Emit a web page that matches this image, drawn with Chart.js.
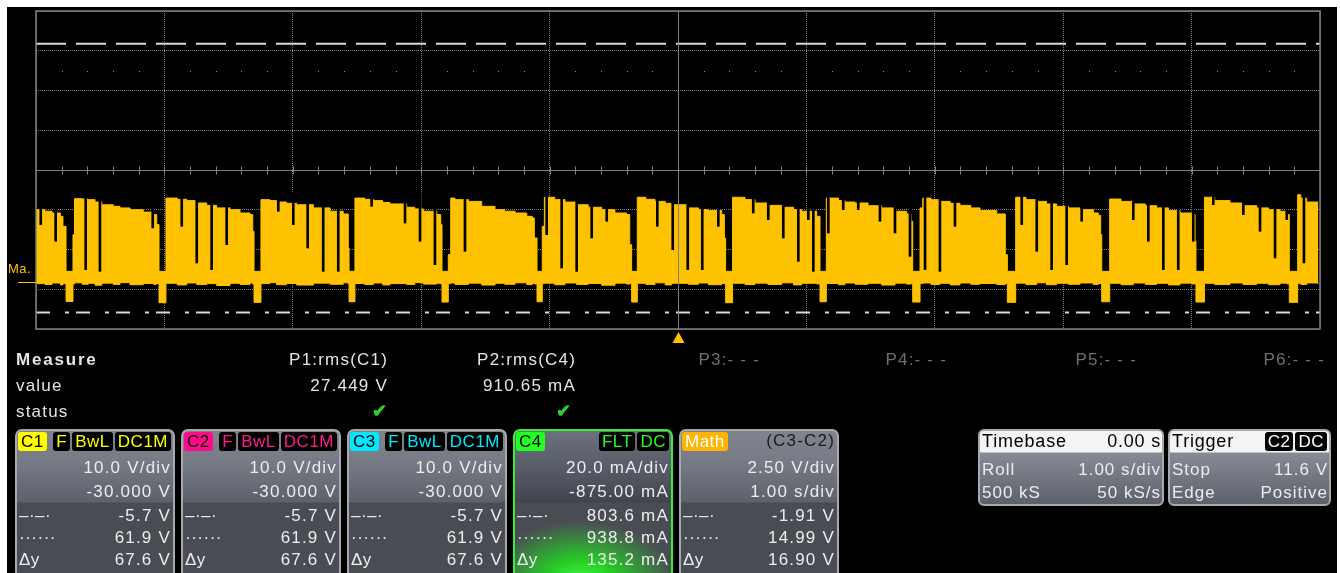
<!DOCTYPE html>
<html>
<head>
<meta charset="utf-8">
<script src="https://cdn.jsdelivr.net/npm/chart.js@4.4.1/dist/chart.umd.min.js"></script>
<style>
  html, body { margin: 0; padding: 0; background: #fff; overflow: hidden; }
  #pantalla { position: relative; width: 1340px; height: 573px; overflow: hidden; font-family: "Liberation Sans", Arial, sans-serif; }
  #fondo { position: absolute; left: 7px; top: 7px; width: 1330px; height: 566px; background: #000; }
  #grafico-osc { position: absolute; left: 0; top: 0; }
  .txt { position: absolute; font-size: 17px; line-height: 20px; letter-spacing: 1.2px; color: #e4e4e4; white-space: nowrap; }
  .gris { color: #6f6f6f; }
  .ok { color: #2fd12f; font-weight: bold; font-size: 18px; }
  .marca { position: absolute; left: 8px; top: 262px; color: #ffc200; font-size: 13px; line-height: 14px; letter-spacing: 0.5px; }
  .caja { position: absolute; top: 429px; width: 160px; height: 150px; box-sizing: border-box; border: 2px solid #a7a9ae; border-radius: 7px; overflow: hidden;
          background: linear-gradient(#80848f 0px, #777b86 30px, #5d616c 71px, #4a4c53 72px, #4a4c53 100%); }
  .caja .fila { position: absolute; right: 2px; font-size: 17px; line-height: 22px; letter-spacing: 1.2px; color: #ececec; white-space: nowrap; }
  .caja .izq { position: absolute; left: 2px; font-size: 17px; line-height: 22px; color: #ececec; white-space: nowrap; letter-spacing: 0.5px; }
  .etq { position: absolute; left: 1px; top: 1px; height: 19px; line-height: 19px; padding: 0 3px; border-radius: 3px; font-size: 17px; color: #000; letter-spacing: 0.5px; }
  .insignias { position: absolute; right: 2px; top: 1px; display: flex; gap: 2px; }
  .insignias span { display: block; height: 19px; line-height: 19px; padding: 0 3px; border-radius: 3px; background: #000; font-size: 17px; letter-spacing: 0.5px; }
  .c4 { border-color: #35f035; background: linear-gradient(#6d717c 0px, #565a66 40px, #41444e 71px, #4a4c53 72px, #4a4c53 100%); }
  .brillo { position: absolute; left: 0; top: 72px; width: 100%; height: 80px;
            background: radial-gradient(ellipse 95px 62px at 42% 100%, #48ff48 0%, #25d025 35%, rgba(74,76,83,0) 100%); }
  .info { position: absolute; top: 429px; height: 77px; box-sizing: border-box; border: 2px solid #a7a9ae; border-radius: 6px; overflow: hidden;
          background: linear-gradient(#f4f4f4 0px, #f4f4f4 21px, #878b95 22px, #5c606b 100%); }
  .info .cab { position: absolute; top: 0; font-size: 18px; line-height: 21px; color: #000; letter-spacing: 0.8px; white-space: nowrap; }
  .info .fila { position: absolute; font-size: 17px; line-height: 22px; color: #ececec; letter-spacing: 1px; white-space: nowrap; }
  .info .insignias span { color: #fff; }
</style>
</head>
<body>
<div id="pantalla">
  <div id="fondo"></div>
  <canvas id="grafico-osc" width="1340" height="573"></canvas>
  <div class="marca">Ma.</div>

  <div class="txt" style="left:16px;top:350px;font-weight:bold;letter-spacing:1.8px">Measure</div>
  <div class="txt" style="left:16px;top:376px">value</div>
  <div class="txt" style="left:16px;top:402px">status</div>
  <div class="txt" style="right:952px;top:350px">P1:rms(C1)</div>
  <div class="txt" style="right:952px;top:376px">27.449 V</div>
  <div class="txt ok" style="right:952px;top:401px">✔</div>
  <div class="txt" style="right:764px;top:350px">P2:rms(C4)</div>
  <div class="txt" style="right:764px;top:376px">910.65 mA</div>
  <div class="txt ok" style="right:768px;top:401px">✔</div>
  <div class="txt gris" style="right:580px;top:350px">P3:- - -</div>
  <div class="txt gris" style="right:393px;top:350px">P4:- - -</div>
  <div class="txt gris" style="right:203px;top:350px">P5:- - -</div>
  <div class="txt gris" style="right:15px;top:350px">P6:- - -</div>

  <div class="caja" style="left:15px">
    <div class="etq" style="background:#ffff00">C1</div>
    <div class="insignias" style="color:#ffff00"><span>F</span><span>BwL</span><span>DC1M</span></div>
    <div class="fila" style="top:26px">10.0 V/div</div>
    <div class="fila" style="top:50px">-30.000 V</div>
    <div class="izq" style="top:74px">–·–·</div><div class="fila" style="top:74px">-5.7 V</div>
    <div class="izq" style="top:96px">······</div><div class="fila" style="top:96px">61.9 V</div>
    <div class="izq" style="top:118px">Δy</div><div class="fila" style="top:118px">67.6 V</div>
  </div>
  <div class="caja" style="left:181px">
    <div class="etq" style="background:#ff0a8c">C2</div>
    <div class="insignias" style="color:#ff1a8f"><span>F</span><span>BwL</span><span>DC1M</span></div>
    <div class="fila" style="top:26px">10.0 V/div</div>
    <div class="fila" style="top:50px">-30.000 V</div>
    <div class="izq" style="top:74px">–·–·</div><div class="fila" style="top:74px">-5.7 V</div>
    <div class="izq" style="top:96px">······</div><div class="fila" style="top:96px">61.9 V</div>
    <div class="izq" style="top:118px">Δy</div><div class="fila" style="top:118px">67.6 V</div>
  </div>
  <div class="caja" style="left:347px">
    <div class="etq" style="background:#00e8ff">C3</div>
    <div class="insignias" style="color:#00e8ff"><span>F</span><span>BwL</span><span>DC1M</span></div>
    <div class="fila" style="top:26px">10.0 V/div</div>
    <div class="fila" style="top:50px">-30.000 V</div>
    <div class="izq" style="top:74px">–·–·</div><div class="fila" style="top:74px">-5.7 V</div>
    <div class="izq" style="top:96px">······</div><div class="fila" style="top:96px">61.9 V</div>
    <div class="izq" style="top:118px">Δy</div><div class="fila" style="top:118px">67.6 V</div>
  </div>
  <div class="caja c4" style="left:513px">
    <div class="brillo"></div>
    <div class="etq" style="background:#22ff22">C4</div>
    <div class="insignias" style="color:#22ff22"><span>FLT</span><span>DC</span></div>
    <div class="fila" style="top:26px">20.0 mA/div</div>
    <div class="fila" style="top:50px">-875.00 mA</div>
    <div class="izq" style="top:74px">–·–·</div><div class="fila" style="top:74px">803.6 mA</div>
    <div class="izq" style="top:96px">······</div><div class="fila" style="top:96px">938.8 mA</div>
    <div class="izq" style="top:118px">Δy</div><div class="fila" style="top:118px">135.2 mA</div>
  </div>
  <div class="caja" style="left:679px">
    <div class="etq" style="background:#ffb400;color:#fff">Math</div>
    <div class="fila" style="top:-1px;color:#1a1a1a">(C3-C2)</div>
    <div class="fila" style="top:26px">2.50 V/div</div>
    <div class="fila" style="top:50px">1.00 s/div</div>
    <div class="izq" style="top:74px">–·–·</div><div class="fila" style="top:74px">-1.91 V</div>
    <div class="izq" style="top:96px">······</div><div class="fila" style="top:96px">14.99 V</div>
    <div class="izq" style="top:118px">Δy</div><div class="fila" style="top:118px">16.90 V</div>
  </div>

  <div class="info" style="left:978px;width:186px">
    <div class="cab" style="left:2px">Timebase</div>
    <div class="cab" style="right:1px">0.00 s</div>
    <div class="fila" style="left:2px;top:28px">Roll</div>
    <div class="fila" style="right:1px;top:28px">1.00 s/div</div>
    <div class="fila" style="left:2px;top:51px">500 kS</div>
    <div class="fila" style="right:1px;top:51px">50 kS/s</div>
  </div>
  <div class="info" style="left:1168px;width:163px">
    <div class="cab" style="left:2px">Trigger</div>
    <div class="insignias"><span>C2</span><span>DC</span></div>
    <div class="fila" style="left:2px;top:28px">Stop</div>
    <div class="fila" style="right:1px;top:28px">11.6 V</div>
    <div class="fila" style="left:2px;top:51px">Edge</div>
    <div class="fila" style="right:1px;top:51px">Positive</div>
  </div>
</div>

<script>
const tiempo = [
  -5.000, -4.930, -4.875, -4.810, -4.790, -4.766, -4.712, -4.700,
  -4.640, -4.593, -4.540, -4.488, -4.398, -4.346, -4.268, -4.164, -4.086, -4.060, -4.042, -3.988,
  -3.900, -3.826, -3.748, -3.670, -3.593, -3.489, -3.411, -3.333, -3.312, -3.302, -3.248,
  -3.180, -3.126, -3.050, -2.970, -2.840, -2.710, -2.607, -2.568, -2.562, -2.516,
  -2.440, -2.373, -2.300, -2.243, -2.113, -2.050, -1.984, -1.879, -1.848, -1.838, -1.789, -1.770,
  -1.737, -1.633, -1.529, -1.425, -1.350, -1.269, -1.178, -1.135, -1.119, -1.098, -1.057, -1.041,
  -0.960, -0.880, -0.790, -0.699, -0.594, -0.491, -0.400, -0.376, -0.361, -0.317,
  -0.250, -0.179, -0.100, -0.049, 0.080, 0.160, 0.236, 0.340, 0.361, 0.371, 0.425,
  0.522, 0.600, 0.700, 0.808, 0.900, 0.963, 1.080, 1.106, 1.155,
  1.250, 1.300, 1.379, 1.480, 1.586, 1.690, 1.781, 1.815, 1.828, 1.885, 1.906,
  1.970, 2.040, 2.120, 2.196, 2.280, 2.352, 2.482, 2.549, 2.565, 2.630,
  2.710, 2.794, 2.870, 2.949, 3.040, 3.131, 3.235, 3.274, 3.292, 3.300, 3.362,
  3.450, 3.546, 3.640, 3.728, 3.820, 3.910, 4.001, 4.027, 4.034, 4.100,
  4.180, 4.299, 4.400, 4.507, 4.600, 4.688, 4.745, 4.761, 4.826, 4.850, 4.896, 4.987
];
const maximo = [
  4.55, 4.45, 4.34, 4.13, 3.50, 0.67, 2.98, 5.24,
  5.22, 5.18, 5.03, 4.86, 4.76, 4.66, 4.55, 4.40, 4.24, 3.61, 0.67, 5.28,
  5.20, 5.12, 4.97, 4.82, 4.66, 4.55, 4.34, 4.24, 3.19, 0.67, 5.18,
  5.12, 5.03, 4.95, 4.86, 4.66, 4.45, 4.28, 2.14, 0.67, 5.28,
  5.20, 5.12, 5.00, 4.91, 4.70, 4.60, 4.45, 4.24, 3.61, 0.67, 1.72, 5.28,
  5.18, 5.07, 4.76, 4.55, 4.45, 4.34, 4.13, 4.03, 2.77, 0.67, 3.50, 5.33,
  5.18, 5.03, 4.86, 4.70, 4.55, 4.34, 4.24, 2.35, 0.67, 5.33,
  5.20, 5.07, 4.95, 4.86, 4.66, 4.55, 4.49, 4.24, 2.77, 0.67, 5.33,
  5.18, 4.97, 4.82, 4.70, 4.55, 4.45, 4.13, 0.67, 5.28,
  5.12, 5.03, 4.97, 4.80, 4.66, 4.45, 4.28, 3.82, 0.67, 4.66, 5.28,
  5.18, 5.07, 4.95, 4.82, 4.66, 4.49, 4.28, 1.72, 0.67, 5.33,
  5.18, 5.07, 4.91, 4.76, 4.66, 4.55, 4.34, 4.19, 2.98, 0.67, 5.22,
  5.07, 4.91, 4.80, 4.66, 4.49, 4.34, 4.24, 2.56, 0.67, 5.33,
  5.12, 4.97, 4.80, 4.66, 4.55, 4.45, 4.24, 0.67, 5.49, 5.28, 5.03, 5.03
];
const minimo = [
  -0.10, -0.16, -0.06, -0.18, -0.10, -1.22, -0.12, -0.05,
  -0.14, -0.08, -0.20, -0.07, -0.15, -0.04, -0.17, -0.09, -0.14, -0.10, -1.30, -0.08,
  -0.18, -0.06, -0.16, -0.10, -0.22, -0.08, -0.15, -0.06, -0.12, -1.28, -0.10,
  -0.04, -0.17, -0.09, -0.19, -0.07, -0.14, -0.05, -0.12, -1.24, -0.09,
  -0.16, -0.06, -0.18, -0.10, -0.15, -0.04, -0.13, -0.08, -0.12, -1.26, -0.10, -0.06,
  -0.15, -0.07, -0.19, -0.08, -0.14, -0.05, -0.16, -0.09, -0.12, -1.24, -0.10, -0.07,
  -0.17, -0.06, -0.15, -0.09, -0.20, -0.07, -0.13, -0.10, -1.26, -0.08,
  -0.15, -0.05, -0.18, -0.08, -0.14, -0.06, -0.17, -0.09, -0.12, -1.30, -0.08,
  -0.16, -0.07, -0.15, -0.05, -0.18, -0.08, -0.12, -1.24, -0.09,
  -0.17, -0.06, -0.14, -0.08, -0.19, -0.07, -0.13, -0.10, -1.26, -0.10, -0.06,
  -0.15, -0.08, -0.18, -0.06, -0.14, -0.09, -0.16, -0.10, -1.28, -0.07,
  -0.16, -0.05, -0.17, -0.08, -0.14, -0.06, -0.15, -0.09, -0.12, -1.24, -0.08,
  -0.17, -0.06, -0.15, -0.08, -0.18, -0.07, -0.12, -0.10, -1.26, -0.08,
  -0.16, -0.06, -0.15, -0.08, -0.17, -0.07, -0.12, -1.28, -0.08, -0.15, -0.06, -0.10
];

// huecos finos de la traza: instante (s) y nivel al que cae (V)
const cortesTiempo = [
  -4.963, -4.847, -4.613, -4.502, -4.091, -3.865, -3.748, -3.632, -3.515, -3.113,
  -2.996, -2.884, -2.763, -2.646, -2.386, -2.126, -2.009, -1.893, -1.659, -1.023,
  -0.906, -0.789, -0.672, -0.555, -0.161, -0.041, 0.076, 0.189, 0.314, 0.586,
  0.703, 0.820, 0.937, 1.015, 1.054, 1.171, 1.287, 1.404, 1.573, 1.690,
  1.807, 1.924, 2.040, 2.157, 2.677, 2.794, 2.910, 3.027, 3.144, 3.546,
  3.663, 3.780, 3.896, 4.013, 4.169, 4.403, 4.533, 4.650, 4.741, 4.875
];
const cortesNivel = [
  3.61, 2.56, 0.78, 0.67, 3.40, 3.50, 1.20, 0.78, 2.35, 4.45,
  3.61, 2.14, 0.67, 0.67, 4.76, 3.71, 2.56, 1.09, 1.93, 2.98,
  0.88, 0.67, 2.77, 3.82, 3.50, 2.03, 0.78, 0.78, 3.50, 4.34,
  3.92, 2.77, 1.30, 3.92, 0.67, 3.08, 4.55, 4.55, 3.82, 3.08,
  1.61, 0.78, 0.67, 3.50, 3.61, 1.93, 0.78, 1.09, 3.82, 3.92,
  2.56, 0.78, 0.78, 2.56, 4.86, 4.24, 3.19, 1.51, 3.92, 1.20
];

// cursores horizontales de Math (V)
const cursorAlto = 14.99;
const cursorBajo = -1.91;

const VOLTS_DIV = 2.5;
const EJE_MIN = -2.955;
const EJE_MAX = EJE_MIN + 8 * VOLTS_DIV;
const CENTRO_Y = EJE_MIN + 4 * VOLTS_DIV;
const AMARILLO = "#ffc200";

const reticula = {
  id: "reticula",
  afterDatasetsDraw(chart) {
    const { ctx, chartArea: a, scales: { x, y } } = chart;
    ctx.save();
    ctx.strokeStyle = "#808080";
    ctx.lineWidth = 1;
    const cx = Math.round(x.getPixelForValue(0)) + 0.5;
    const cy = Math.round(y.getPixelForValue(CENTRO_Y)) + 0.5;
    ctx.beginPath();
    ctx.moveTo(cx, a.top);
    ctx.lineTo(cx, a.bottom);
    ctx.moveTo(a.left, cy);
    ctx.lineTo(a.right, cy);
    for (let k = 1; k < 50; k++) {
      const px = Math.round(x.getPixelForValue(-5 + k * 0.2)) + 0.5;
      ctx.moveTo(px, cy - 4);
      ctx.lineTo(px, cy + 4);
    }
    ctx.stroke();

    ctx.lineWidth = 1.5;
    ctx.strokeRect(a.left, a.top, a.width, a.height);

    // fila de puntos bajo la primera división
    ctx.fillStyle = "#8a8a8a";
    const fy = Math.round(y.getPixelForValue(EJE_MAX - 1.5 * VOLTS_DIV));
    for (let k = 1; k < 50; k++) {
      if (k % 5 === 0) continue;
      ctx.fillRect(Math.round(x.getPixelForValue(-5 + k * 0.2)), fy, 1, 1);
    }

    // marca de disparo
    ctx.fillStyle = AMARILLO;
    ctx.beginPath();
    ctx.moveTo(cx, a.bottom + 3);
    ctx.lineTo(cx + 6, a.bottom + 14);
    ctx.lineTo(cx - 6, a.bottom + 14);
    ctx.closePath();
    ctx.fill();

    // referencia de cero de Math
    const y0 = Math.round(y.getPixelForValue(0)) + 0.5;
    ctx.strokeStyle = AMARILLO;
    ctx.lineWidth = 1;
    ctx.beginPath();
    ctx.moveTo(18, y0);
    ctx.lineTo(a.left, y0);
    ctx.stroke();
    ctx.restore();
  }
};

const ctx = document.getElementById("grafico-osc").getContext("2d");

new Chart(ctx, {
  type: "line",
  data: {
    datasets: [
      {
        label: "Math max",
        data: tiempo.map((t, i) => ({ x: t, y: maximo[i] })),
        stepped: true,
        borderColor: AMARILLO,
        borderWidth: 1,
        backgroundColor: AMARILLO,
        fill: "+1",
        pointRadius: 0,
        order: 3,
      },
      {
        label: "Math min",
        data: tiempo.map((t, i) => ({ x: t, y: minimo[i] })),
        stepped: true,
        borderColor: AMARILLO,
        borderWidth: 1,
        fill: false,
        pointRadius: 0,
        order: 3,
      },
      {
        type: "bar",
        label: "huecos",
        data: cortesTiempo.map((t, i) => ({ x: t, y: [cortesNivel[i], 5.6] })),
        backgroundColor: "#000",
        barThickness: 2,
        grouped: false,
        order: 1,
      },
      {
        label: "cursor alto",
        data: [{ x: -5, y: cursorAlto }, { x: 5, y: cursorAlto }],
        borderColor: "#dadada",
        borderWidth: 2,
        borderDash: [30, 10],
        pointRadius: 0,
        fill: false,
        order: 0,
      },
      {
        label: "cursor bajo",
        data: [{ x: -5, y: cursorBajo }, { x: 5, y: cursorBajo }],
        borderColor: "#dadada",
        borderWidth: 2,
        borderDash: [14, 15, 4, 7],
        pointRadius: 0,
        fill: false,
        order: 0,
      },
    ],
  },
  options: {
    responsive: false,
    maintainAspectRatio: false,
    animation: false,
    layout: { padding: { left: 36, top: 11, right: 20, bottom: 244 } },
    plugins: { legend: { display: false }, tooltip: { enabled: false } },
    scales: {
      x: {
        type: "linear",
        min: -5,
        max: 5,
        offset: false,
        ticks: { display: false, stepSize: 1 },
        grid: { color: "#7e7e7e", drawTicks: false, offset: false },
        border: { display: false, dash: [1, 1] },
        afterFit: (s) => { s.height = 0; },
      },
      y: {
        min: EJE_MIN,
        max: EJE_MAX,
        ticks: { display: false },
        afterBuildTicks: (s) => {
          s.ticks = Array.from({ length: 9 }, (_, k) => ({ value: EJE_MIN + k * VOLTS_DIV }));
        },
        grid: { color: "#7e7e7e", drawTicks: false },
        border: { display: false, dash: [1, 1] },
        afterFit: (s) => { s.width = 0; },
      },
    },
  },
  plugins: [reticula],
});
</script>
</body>
</html>
